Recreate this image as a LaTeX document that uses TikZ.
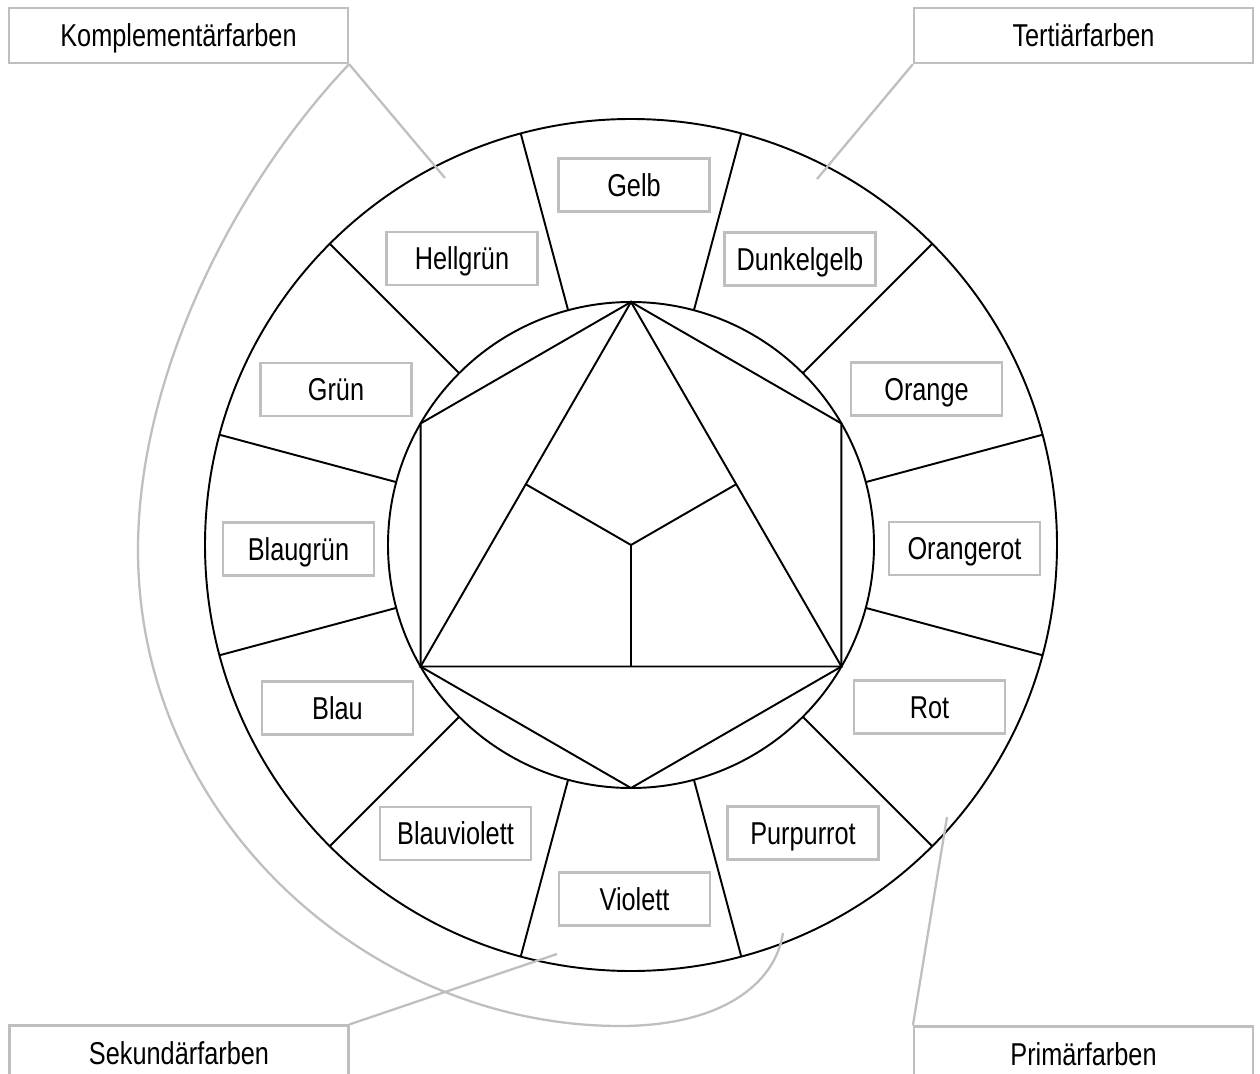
\documentclass[tikz,border=0pt]{standalone}
\usepackage{fontspec}
\setmainfont{Liberation Sans}[FakeStretch=0.8]
\usetikzlibrary{calc}
\definecolor{lg}{RGB}{191,191,191}
\begin{document}
\begin{tikzpicture}[x=0.02cm,y=-0.02cm,
  ink/.style={line width=1.1pt, draw=black},
  conn/.style={line width=1.3pt, draw=lg},
  lab/.style={draw=lg, line width=1.3pt, minimum width=3.02cm, minimum height=1.06cm,
    inner sep=0pt, text height=12.9pt, text depth=0pt, font=\fontsize{18}{21}\selectfont},
  corner/.style={lab, minimum width=6.78cm, minimum height=1.1cm}]
\useasboundingbox (0,0) rectangle (1260,1074);
\coordinate (c) at (631,545);
% circles
\draw[ink] (c) circle[radius=426];
\draw[ink] (c) circle[radius=243];
% spokes
\foreach \a in {15,45,...,345} {
  \coordinate (si\a) at ($(c)+(\a:243)$);
  \coordinate (so\a) at ($(c)+(\a:426)$);
  \draw[ink] (si\a) -- (so\a);
}
% hexagon and triangle
\foreach \a [count=\i] in {270,330,30,90,150,210}
  \coordinate (h\i) at ($(c)+(\a:243)$);
\draw[ink, line join=miter] (h1) -- (h2) -- (h3) -- (h4) -- (h5) -- (h6) -- cycle;
\draw[ink] (h1) -- (h3) -- (h5) -- cycle;
\coordinate (m1) at ($(h3)!0.5!(h5)$);
\coordinate (m2) at ($(h1)!0.5!(h3)$);
\coordinate (m3) at ($(h5)!0.5!(h1)$);
\draw[ink] (c) -- (m1);
\draw[ink] (c) -- (m2);
\draw[ink] (c) -- (m3);
% colour labels
\node[lab] (gelb) at (634,185) {Gelb};
\node[lab] (dunkelgelb) at (800,259) {Dunkelgelb};
\node[lab] (orange) at (926.5,389) {Orange};
\node[lab] (orangerot) at (964.5,548.5) {Orangerot};
\node[lab] (rot) at (929.5,707) {Rot};
\node[lab] (purpurrot) at (803,833) {Purpurrot};
\node[lab] (violett) at (634.5,899) {Violett};
\node[lab] (blauviolett) at (455.5,833.5) {Blauviolett};
\node[lab] (blau) at (337.5,708) {Blau};
\node[lab] (blaugruen) at (298.5,549) {Blaugrün};
\node[lab] (gruen) at (336,389.5) {Grün};
\node[lab] (hellgruen) at (462,258.5) {Hellgrün};
% corner boxes
\node[corner] (kompl) at (178.5,35.5) {Komplementärfarben};
\node[corner] (tert) at (1083.5,35.5) {Tertiärfarben};
\node[corner] (sek) at (179,1053) {Sekundärfarben};
\node[corner] (prim) at (1083.5,1054) {Primärfarben};
% connector ends
\coordinate (kt) at (445,178);
\coordinate (tt) at (817,179);
\coordinate (st) at (557,954);
\coordinate (pt) at (947,817);
\coordinate (ke) at (783,933);
\draw[conn] (kompl.south east) -- (kt);
\draw[conn] (tert.south west) -- (tt);
\draw[conn] (sek.north east) -- (st);
\draw[conn] (prim.north west) -- (pt);
\draw[conn] (kompl.south east) .. controls (230,190) and (138,380) .. (138,550)
  .. controls (138,820) and (370,1026) .. (620,1026)
  .. controls (720,1026) and (775,985) .. (ke);
\end{tikzpicture}
\end{document}
